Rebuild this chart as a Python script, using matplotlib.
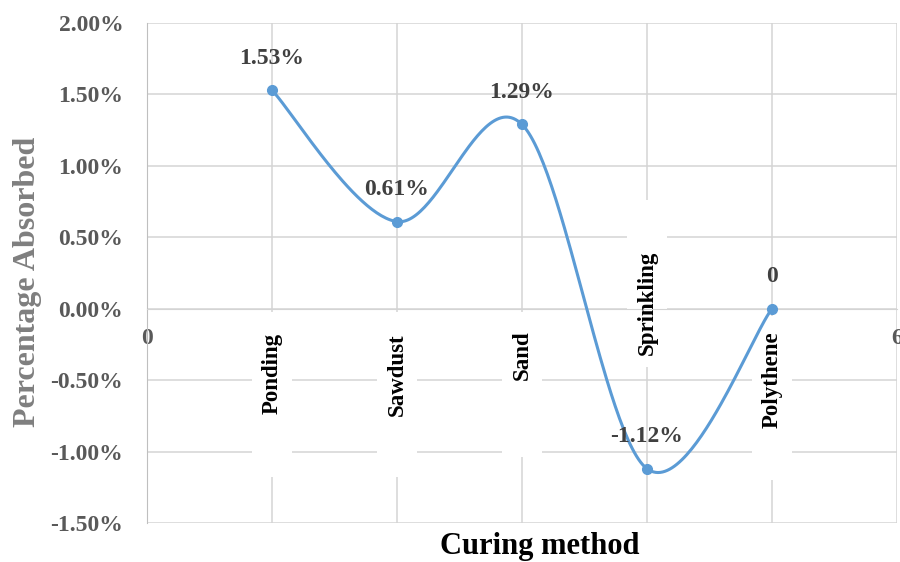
import numpy as np
import matplotlib
matplotlib.use("Agg")
import matplotlib.pyplot as plt
from matplotlib.patches import Rectangle

# curing methods and the water absorbed (%) for each
methods = ["Ponding", "Sawdust", "Sand", "Sprinkling", "Polythene"]
absorbed = [1.53, 0.61, 1.29, -1.12, 0.0]
value_labels = ["1.53%", "0.61%", "1.29%", "-1.12%", "0"]

# where the rotated method names sit (top of text) and their white backing boxes
name_top = [-0.17, -0.17, -0.15, 0.41, -0.16]
box_top = [-0.02, -0.02, -0.02, 0.76, -0.05]
box_bottom = [-1.18, -1.18, -1.04, -0.41, -1.20]

BLUE = "#5B9BD5"
GRID = "#d4d4d4"


def smooth_curve(xs, ys, n=60):
    # excel-style smoothed line: catmull-rom segments as cubic beziers
    pts = np.column_stack([xs, ys]).astype(float)
    out = []
    for i in range(len(pts) - 1):
        p0 = pts[i - 1] if i > 0 else pts[i]
        p1 = pts[i]
        p2 = pts[i + 1]
        p3 = pts[i + 2] if i + 2 < len(pts) else pts[i + 1]
        c1 = p1 + (p2 - p0) / 6
        c2 = p2 - (p3 - p1) / 6
        t = np.linspace(0, 1, n)[:, None]
        seg = ((1 - t) ** 3) * p1 + 3 * ((1 - t) ** 2) * t * c1 \
            + 3 * (1 - t) * t ** 2 * c2 + t ** 3 * p2
        out.append(seg if i == 0 else seg[1:])
    out = np.vstack(out)
    return out[:, 0], out[:, 1]


plt.rcParams['font.family'] = ['Liberation Serif', 'DejaVu Serif']
plt.rcParams['font.weight'] = 'bold'
plt.rcParams['axes.labelweight'] = 'bold'

fig = plt.figure(figsize=(9, 5.62), dpi=100)
ax = fig.add_axes([0.1633, 0.0694, 0.8334, 0.8896])

xpos = np.arange(1, len(methods) + 1)

ax.set_xlim(0, 6)
ax.set_ylim(-1.5, 2.0)
ax.set_yticks(np.arange(-1.5, 2.01, 0.5))
ax.set_yticklabels(["%.2f%%" % v for v in np.arange(-1.5, 2.01, 0.5)])
ax.set_xticks(np.arange(0, 7))
ax.set_xticklabels(["0", "", "", "", "", "", "6"])

ax.grid(True, color=GRID, lw=1.1, zorder=0)
ax.set_axisbelow(True)
for s in ["top", "right"]:
    ax.spines[s].set_visible(False)
ax.spines["left"].set_color("#bfbfbf")
ax.spines["bottom"].set_position(("data", 0))
ax.spines["bottom"].set_color(GRID)
ax.tick_params(axis="both", length=0, labelsize=17, labelcolor="#595959")
ax.tick_params(axis="y", pad=17)
ax.tick_params(axis="x", pad=14)

# white boxes behind the method names
for x, top, bot in zip(xpos, box_top, box_bottom):
    ax.add_patch(Rectangle((x - 0.16, bot), 0.32, top - bot,
                           facecolor="white", edgecolor="none", zorder=1.5))

sx, sy = smooth_curve(xpos, absorbed)
ax.plot(sx, sy, color=BLUE, lw=2.2, zorder=3, solid_capstyle="round")
ax.plot(xpos, absorbed, "o", color=BLUE, ms=7, zorder=4)

for x, y, lab in zip(xpos, absorbed, value_labels):
    ax.annotate(lab, (x, y), xytext=(0, 23), textcoords="offset points",
                ha="center", va="center", fontsize=17, color="#404040",
                zorder=5)

for x, top, name in zip(xpos, name_top, methods):
    ax.text(x, top, name, rotation=90, ha="center", va="top",
            fontsize=16.5, color="black", zorder=5)

ax.set_ylabel("Percentage Absorbed", fontsize=23, color="#7f7f7f", va="center")
ax.yaxis.set_label_coords(-0.159, 0.482)
ax.set_xlabel("Curing method", fontsize=22, color="black")
ax.xaxis.set_label_coords(0.524, -0.048)
ax.xaxis.label.set_va("center")

fig.savefig("out.png", dpi=100)
